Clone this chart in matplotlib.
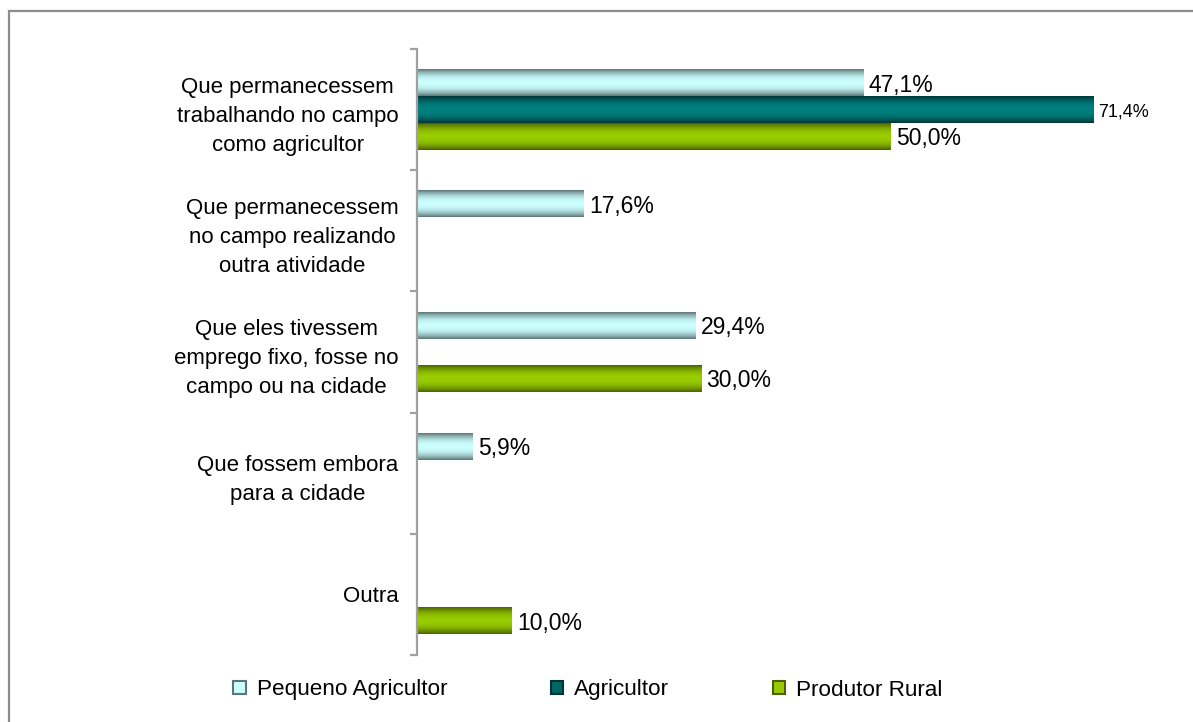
import numpy as np
import matplotlib
matplotlib.use("Agg")
import matplotlib.pyplot as plt
from matplotlib.patches import Patch, Rectangle
from matplotlib.colors import to_rgb

plt.rcParams['font.family'] = ['Liberation Sans', 'DejaVu Sans']

categories = [
    "Que permanecessem\ntrabalhando no campo\ncomo agricultor",
    "Que permanecessem\nno campo realizando\noutra atividade",
    "Que eles tivessem\nemprego fixo, fosse no\ncampo ou na cidade",
    "Que fossem embora\npara a cidade",
    "Outra",
]
series_names = ["Pequeno Agricultor", "Agricultor", "Produtor Rural"]
pequeno = [47.1, 17.6, 29.4, 5.9, np.nan]
agricultor = [71.4, np.nan, np.nan, np.nan, np.nan]
produtor = [50.0, np.nan, 30.0, np.nan, 10.0]
series_values = [pequeno, agricultor, produtor]

light_cols = ["#ccffff", "#008080", "#99cc00"]
dark_cols = ["#5c7676", "#003535", "#4a6200"]
label_sizes = [16.5, 13, 16.5]

W, H = 1193, 722
fig = plt.figure(figsize=(W / 100, H / 100), dpi=100)
ax = fig.add_axes([416.5 / W, 1 - 655 / H, (1174.5 - 416.5) / W, (655 - 49) / H])

# outer frame (top and left visible)
fig.patches.append(Rectangle((9 / W, -0.1), 1.2, (H - 11) / H + 0.1, transform=fig.transFigure,
                             fill=False, edgecolor="#8c8c8c", linewidth=1.6))

n = len(categories)
y = np.arange(n)
bh = 0.22
offsets = [-bh, 0, bh]

def gradient_img(light, dark, npts=64):
    s = np.linspace(0, 1, npts)
    t = np.abs(2 * s - 1) ** 2.2
    l = np.array(to_rgb(light))
    d = np.array(to_rgb(dark))
    cols = l[None, :] * (1 - t[:, None]) + d[None, :] * t[:, None]
    return cols[:, None, :]

for vals, off, lc, dc, fs in zip(series_values, offsets, light_cols, dark_cols, label_sizes):
    v = np.array(vals, dtype=float)
    mask = ~np.isnan(v)
    bars = ax.barh(y[mask] + off, v[mask], height=bh, color="none", edgecolor="none")
    img = gradient_img(lc, dc)
    for b, val in zip(bars, v[mask]):
        x0, y0 = b.get_x(), b.get_y()
        w, h = b.get_width(), b.get_height()
        ax.imshow(img, extent=[x0, x0 + w, y0 + h, y0], aspect="auto",
                  interpolation="bilinear", zorder=2)
        ax.annotate(f"{val:.1f}".replace(".", ",") + "%", xy=(x0 + w, y0 + h / 2),
                    xytext=(4, -1.5), textcoords="offset points", va="center", ha="left",
                    fontsize=fs, color="#000000")

ax.set_xlim(0, 80)
ax.set_ylim(n - 0.5, -0.5)

for sp in ["top", "right", "bottom"]:
    ax.spines[sp].set_visible(False)
ax.spines["left"].set_color("#a0a0a0")
ax.spines["left"].set_linewidth(1.6)
ax.set_xticks([])

ax.set_yticks(np.arange(-0.5, n, 1.0))
ax.set_yticklabels([])
ax.tick_params(axis="y", which="major", length=5, width=1.6, color="#a0a0a0")
ax.set_yticks(y, minor=True)
ax.set_yticklabels(categories, minor=True, fontsize=16, multialignment="center",
                   linespacing=1.5)
ax.tick_params(axis="y", which="minor", length=0, pad=13)

handles = [Patch(facecolor=lc, edgecolor=dc, linewidth=1.5) for lc, dc in zip(light_cols, dark_cols)]
handles[1] = Patch(facecolor="#006666", edgecolor="#003535", linewidth=1.5)
fig.legend(handles, series_names, loc="center", bbox_to_anchor=(588 / W, 1 - 690 / H),
           ncol=3, frameon=False, fontsize=16.2, handlelength=0.55, handleheight=0.55,
           handletextpad=0.5, columnspacing=4.6)

fig.savefig("out.png", dpi=100, facecolor="white")
